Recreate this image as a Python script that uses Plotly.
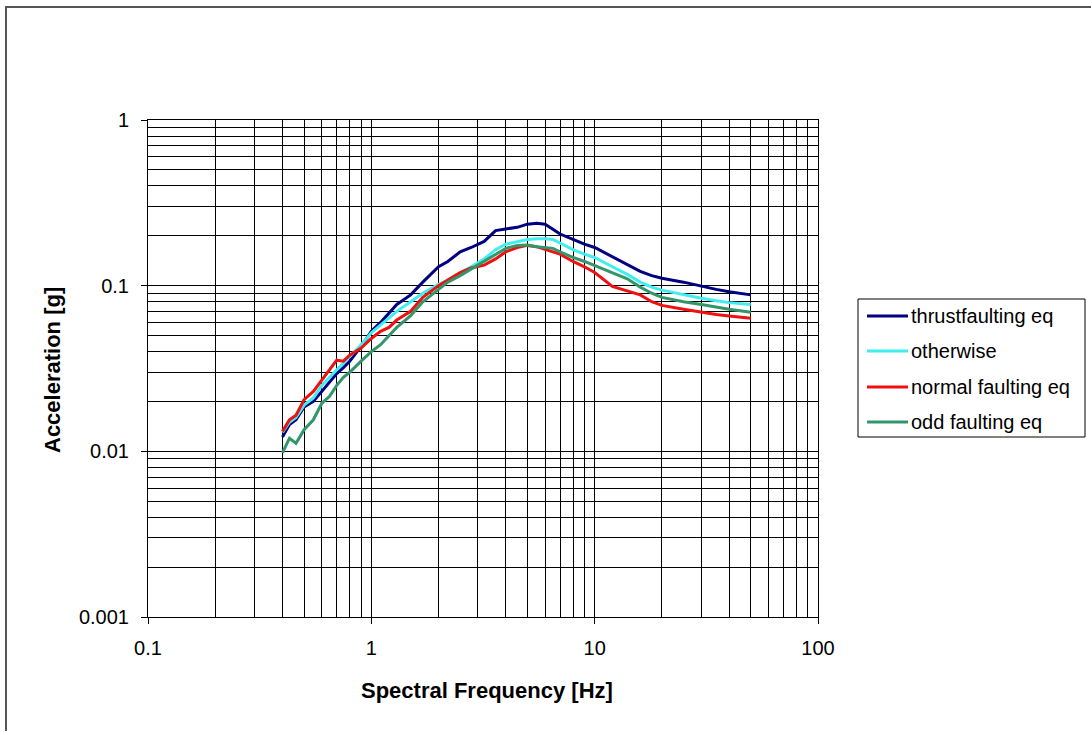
import plotly.graph_objects as go

freq = [0.40, 0.43, 0.46, 0.50, 0.55, 0.60, 0.65, 0.70, 0.75, 0.80, 0.90, 1.0, 1.1, 1.2, 1.3,
        1.5, 1.7, 2.0, 2.2, 2.5, 2.8, 3.2, 3.6, 4.0, 4.5, 5.0, 5.5, 6.0, 6.5, 7.0, 8.0, 9.0,
        10, 12, 14, 16, 18, 20, 25, 30, 35, 40, 50]

thrust = [0.0122, 0.0145, 0.0155, 0.0185, 0.0200, 0.0230, 0.0265, 0.0295, 0.0320, 0.0350,
          0.0430, 0.0530, 0.0600, 0.0680, 0.0770, 0.0880, 0.1050, 0.1300, 0.1400, 0.1600,
          0.1700, 0.1850, 0.2150, 0.2200, 0.2250, 0.2350, 0.2380, 0.2350, 0.2200, 0.2050,
          0.1900, 0.1780, 0.1700, 0.1500, 0.1350, 0.1220, 0.1150, 0.1110, 0.1050, 0.0990,
          0.0950, 0.0920, 0.0880]

otherwise = [0.0130, 0.0150, 0.0160, 0.0190, 0.0210, 0.0250, 0.0280, 0.0310, 0.0340, 0.0370,
             0.0440, 0.0520, 0.0580, 0.0640, 0.0700, 0.0800, 0.0900, 0.1020, 0.1080, 0.1200,
             0.1300, 0.1450, 0.1650, 0.1780, 0.1850, 0.1900, 0.1920, 0.1920, 0.1900, 0.1800,
             0.1650, 0.1550, 0.1480, 0.1300, 0.1170, 0.1050, 0.0980, 0.0940, 0.0880, 0.0840,
             0.0810, 0.0790, 0.0770]

normal = [0.0132, 0.0155, 0.0165, 0.0205, 0.0230, 0.0270, 0.0310, 0.0355, 0.0350, 0.0380,
          0.0420, 0.0480, 0.0530, 0.0560, 0.0620, 0.0700, 0.0850, 0.1000, 0.1080, 0.1200,
          0.1280, 0.1330, 0.1450, 0.1600, 0.1700, 0.1750, 0.1720, 0.1650, 0.1600, 0.1550,
          0.1400, 0.1300, 0.1200, 0.0990, 0.0930, 0.0880, 0.0800, 0.0760, 0.0720, 0.0690,
          0.0670, 0.0655, 0.0635]

odd = [0.0098, 0.0120, 0.0112, 0.0135, 0.0155, 0.0195, 0.0215, 0.0250, 0.0280, 0.0300,
       0.0350, 0.0400, 0.0440, 0.0500, 0.0560, 0.0660, 0.0800, 0.0950, 0.1050, 0.1150,
       0.1260, 0.1420, 0.1550, 0.1680, 0.1750, 0.1760, 0.1720, 0.1700, 0.1680, 0.1600,
       0.1480, 0.1400, 0.1320, 0.1200, 0.1100, 0.0980, 0.0900, 0.0850, 0.0800, 0.0770,
       0.0740, 0.0720, 0.0690]

names = ["thrustfaulting eq", "otherwise", "normal faulting eq", "odd faulting eq"]
colors = ["#000080", "#3FEFEF", "#F01010", "#33966A"]
series = [thrust, otherwise, normal, odd]

x_tickvals = [0.1, 1, 10, 100]
x_ticktext = ["0.1", "1", "10", "100"]
y_tickvals = [0.001, 0.01, 0.1, 1]
y_ticktext = ["0.001", "0.01", "0.1", "1"]

FONT = "Liberation Sans, Arial, sans-serif"

fig = go.Figure()
for name, col, vals in zip(names, colors, series):
    fig.add_trace(go.Scatter(x=freq, y=vals, mode="lines", name=name,
                             line=dict(color=col, width=3), showlegend=False))

# geometry in pixels
W, H = 1091, 731
L, R, T, B = 148, 818, 120, 617
pw, ph = R - L, B - T

def px(xp):
    return (xp - L) / pw

def py(yp):
    return (B - yp) / ph

axis_common = dict(
    type="log", showline=True, linecolor="black", linewidth=1, mirror=True,
    showgrid=True, gridcolor="black", gridwidth=1, zeroline=False,
    ticks="outside", ticklen=6, tickcolor="black",
    tickfont=dict(family=FONT, size=20, color="black"),
)

fig.update_xaxes(range=[-1, 2], tickvals=x_tickvals, ticktext=x_ticktext,
                 minor=dict(dtick="D1", showgrid=True, gridcolor="black", gridwidth=1, ticks=""),
                 ticklabelstandoff=7, **axis_common)
fig.update_yaxes(range=[-3, 0], tickvals=y_tickvals, ticktext=y_ticktext,
                 minor=dict(dtick="D1", showgrid=True, gridcolor="black", gridwidth=1, ticks=""),
                 ticklabelstandoff=8, **axis_common)

shapes = []
annotations = []
# outer frame
shapes.append(dict(type="rect", xref="paper", yref="paper",
                   x0=px(6), x1=px(W + 10), y0=py(H + 10), y1=py(7),
                   line=dict(color="#555555", width=2), fillcolor="rgba(0,0,0,0)"))
# legend box
shapes.append(dict(type="rect", xref="paper", yref="paper",
                   x0=px(858), x1=px(1085), y0=py(437), y1=py(299),
                   line=dict(color="black", width=1), fillcolor="white"))
rows = [316, 351, 387, 422]
for name, col, ry in zip(names, colors, rows):
    shapes.append(dict(type="line", xref="paper", yref="paper",
                       x0=px(867), x1=px(908), y0=py(ry), y1=py(ry),
                       line=dict(color=col, width=3)))
    annotations.append(dict(xref="paper", yref="paper", x=px(909), y=py(ry),
                            xanchor="left", yanchor="middle", showarrow=False,
                            text=name, font=dict(family=FONT, size=20, color="black")))

# axis titles
annotations.append(dict(xref="paper", yref="paper", x=px(487), y=py(690),
                        xanchor="center", yanchor="middle", showarrow=False,
                        text="<b>Spectral Frequency [Hz]</b>",
                        font=dict(family=FONT, size=22, color="black")))
annotations.append(dict(xref="paper", yref="paper", x=px(52), y=py(370),
                        xanchor="center", yanchor="middle", showarrow=False, textangle=-90,
                        text="<b>Acceleration [g]</b>",
                        font=dict(family=FONT, size=22, color="black")))

fig.update_layout(
    width=W, height=H,
    margin=dict(l=L, r=W - R, t=T, b=H - B, autoexpand=False),
    paper_bgcolor="white", plot_bgcolor="white",
    shapes=shapes, annotations=annotations,
    showlegend=False,
)

fig.write_html("out.html", config={"displayModeBar": False},
               post_script="document.body.style.margin='0';document.body.style.overflow='hidden';")
